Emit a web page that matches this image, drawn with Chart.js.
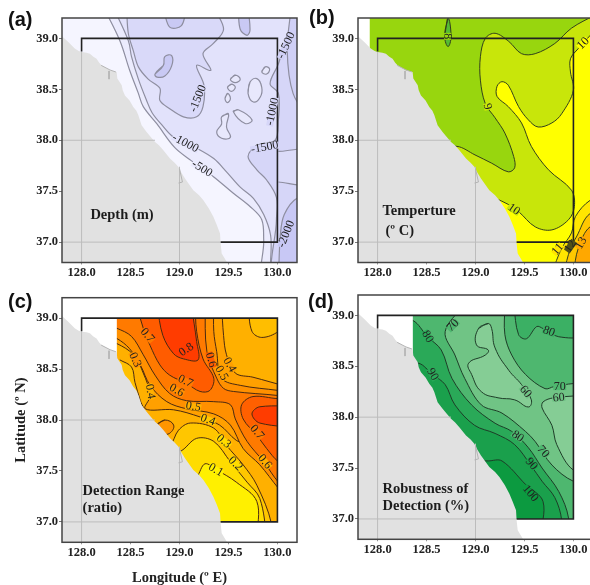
<!DOCTYPE html>
<html>
<head>
<meta charset="utf-8">
<script src="https://cdn.jsdelivr.net/npm/chart.js@4"></script>
<style>
  html, body { margin: 0; padding: 0; background: #fff; width: 590px; height: 585px; overflow: hidden; }
  canvas { position: absolute; filter: blur(0.35px); }
</style>
</head>
<body>
<canvas id="panelA" style="left:0;top:0" width="300" height="285"></canvas>
<canvas id="panelB" style="left:296px;top:0" width="300" height="285"></canvas>
<canvas id="panelC" style="left:0;top:285px" width="300" height="303"></canvas>
<canvas id="panelD" style="left:296px;top:285px" width="300" height="300"></canvas>
<script>
// Axis ticks
const lonTicks = [128, 128.5, 129, 129.5, 130];
const latTicks = [37, 37.5, 38, 38.5, 39];

// Coastline, north to south [lon, lat]
const coast = [
  [127.7, 39.1], [127.8, 39.02], [127.864, 38.964], [127.93, 38.9], [127.97, 38.875], [128.0, 38.866],
  [128.05, 38.86], [128.085, 38.85], [128.12, 38.82], [128.153, 38.8], [128.18, 38.76], [128.204, 38.735],
  [128.25, 38.71], [128.29, 38.686], [128.358, 38.67], [128.365, 38.605], [128.41, 38.54], [128.42, 38.49],
  [128.443, 38.44], [128.49, 38.39], [128.528, 38.327], [128.56, 38.29], [128.58, 38.245], [128.613, 38.147],
  [128.664, 38.082], [128.7, 38.04], [128.75, 37.984], [128.79, 37.95], [128.835, 37.902], [128.903, 37.82],
  [128.95, 37.78], [128.988, 37.739], [129.02, 37.68], [129.056, 37.624], [129.141, 37.51], [129.2, 37.46],
  [129.244, 37.412], [129.3, 37.33], [129.346, 37.248], [129.38, 37.17], [129.414, 37.085], [129.42, 36.987],
  [129.431, 36.889], [129.482, 36.807], [129.5, 36.7], [127.7, 36.7]
];
const riverA = [[128.2, 38.735], [128.29, 38.69], [128.35, 38.67]];
const riverB = [[128.28, 38.68], [128.28, 38.6]];
const riverC = [[129.0, 37.72], [129.03, 37.59], [128.99, 37.58]];

// Study box and land grid lines
const studyBox = [[128, 38.87], [128, 39], [130, 39], [130, 37], [129.42, 37]];
const gridLon128 = [[128, 36.8], [128, 38.87]];
const gridLon129 = [[129, 36.8], [129, 37.74]];
const gridLat38 = [[127.8, 38], [128.75, 38]];
const gridLat37 = [[127.8, 37], [129.42, 37]];

// (a) Depth contours
const depthBase = [[127.7, 39.3], [130.3, 39.3], [130.3, 36.7], [127.7, 36.7]];
const depth500 = [[128.2, 39.35], [128.39, 38.98], [128.49, 38.69], [128.58, 38.46], [128.63, 38.33], [128.77, 38.16], [128.95, 37.93], [129.12, 37.8], [129.35, 37.64], [129.55, 37.48], [129.72, 37.35], [129.84, 37.22], [129.86, 37.02], [129.87, 36.6], [130.5, 36.6], [130.5, 39.35]];
const depth1000 = [[128.3, 39.35], [128.477, 38.98], [128.51, 38.82], [128.58, 38.6], [128.66, 38.4], [128.72, 38.27], [128.82, 38.15], [128.94, 38.03], [129.18, 37.92], [129.35, 37.82], [129.48, 37.69], [129.62, 37.54], [129.755, 37.43], [129.86, 37.27], [129.93, 37.07], [129.98, 36.6], [130.5, 36.6], [130.5, 39.35]];
const depth1500Main = [[128.46, 39.3], [128.477, 39.05], [128.528, 38.88], [128.58, 38.72], [128.68, 38.6], [128.8, 38.51], [128.8, 38.39], [128.9, 38.31], [129.04, 38.23], [129.175, 38.23], [129.24, 38.33], [129.25, 38.54], [129.175, 38.735], [129.32, 38.686], [129.24, 38.85], [129.346, 38.95], [129.45, 39.09], [129.35, 39.3]];
const depth1500East = [[130.16, 39.3], [130.16, 39.19], [130.08, 38.98], [130.01, 38.75], [129.925, 38.555], [130.01, 38.46], [130.01, 38.2], [129.976, 38.0], [129.79, 37.95], [129.7, 37.84], [129.79, 37.71], [129.89, 37.61], [129.99, 37.44], [129.99, 37.22], [129.976, 36.6], [130.5, 36.6], [130.5, 39.3]];
const depth2000South = [[130.01, 36.6], [130.03, 37.07], [130.07, 37.27], [130.2, 37.43], [130.5, 37.5], [130.5, 36.6]];
const depth2000North = [[130.14, 39.3], [130.1, 38.88], [130.16, 38.46], [130.3, 38.3], [130.5, 39.3]];
const depthEastLoop = [[130.01, 37.89], [130.3, 37.89], [130.3, 37.58], [130.01, 37.59]];
const depthBlobA = [[128.75, 38.65], [128.835, 38.735], [128.85, 38.82], [128.92, 38.83], [128.92, 38.73], [128.85, 38.63], [128.77, 38.62]];
const depthBlobB = [[128.835, 39.3], [128.9, 39.11], [129.02, 39.125], [129.07, 39.3]];
const depthBlobC = [[129.6, 39.3], [129.62, 39.09], [129.69, 39.03], [129.72, 39.08], [129.7, 39.3]];
const depthHoles = [
  [[129.7, 38.46], [129.72, 38.57], [129.79, 38.605], [129.84, 38.52], [129.825, 38.425], [129.755, 38.375]],
  [[129.84, 38.67], [129.875, 38.72], [129.92, 38.7], [129.89, 38.65]],
  [[129.52, 38.6], [129.57, 38.64], [129.62, 38.6], [129.57, 38.565]],
  [[129.49, 38.52], [129.53, 38.55], [129.57, 38.52], [129.53, 38.48]],
  [[129.465, 38.41], [129.49, 38.46], [129.52, 38.41], [129.49, 38.37]],
  [[129.55, 38.28], [129.6, 38.3], [129.74, 38.2], [129.67, 38.165]],
  [[129.43, 38.23], [129.5, 38.26], [129.48, 38.13], [129.52, 38.03], [129.43, 38.02], [129.38, 38.08], [129.43, 38.16]]
];
const depthLabels = [[129.19, 38.41, "-1500"], [129.06, 37.97, "-1000"], [129.23, 37.72, "-500"], [129.95, 38.28, "-1000"], [129.87, 37.93, "-1500"], [130.09, 38.93, "-1500"], [130.09, 37.08, "-2000"]];
const depthLabelAngles = [-68, 28, 32, -78, -10, -65, -68];

// (b) Temperature contours
const tempBase = [[127.92, 39.3], [130.3, 39.3], [130.3, 36.7], [127.92, 36.7]];
const temp9 = [[130.22, 39.23], [129.98, 39.1], [129.81, 38.95], [129.61, 38.85], [129.47, 38.85], [129.34, 38.97], [129.2, 39.05], [129.1, 39.0], [129.05, 38.82], [129.05, 38.59], [129.1, 38.36], [129.2, 38.22], [129.3, 38.07], [129.39, 37.84], [129.4, 37.73], [129.335, 37.69], [129.165, 37.775], [128.995, 37.856], [128.81, 37.94], [128.6, 37.9], [129.2, 36.6], [130.4, 36.6], [130.4, 39.3]];
const temp10 = [[130.22, 39.08], [130.05, 38.9], [129.97, 38.8], [129.97, 38.67], [130.0, 38.49], [129.88, 38.26], [129.78, 38.17], [129.64, 38.13], [129.54, 38.2], [129.44, 38.33], [129.335, 38.54], [129.27, 38.575], [129.22, 38.53], [129.22, 38.43], [129.335, 38.33], [129.47, 38.17], [129.57, 37.94], [129.745, 37.71], [129.98, 37.51], [130.01, 37.35], [129.95, 37.22], [129.78, 37.12], [129.61, 37.15], [129.44, 37.3], [129.335, 37.37], [129.2, 37.43], [129.0, 37.5], [129.3, 36.6], [130.4, 36.6], [130.4, 39.2]];
const temp11 = [[129.78, 36.7], [129.88, 36.94], [129.98, 37.09], [130.02, 37.25], [130.17, 37.41], [130.4, 37.5], [130.4, 36.7]];
const temp12 = [[129.9, 36.7], [129.97, 36.94], [130.03, 37.05], [130.17, 37.28], [130.4, 37.3], [130.4, 36.7]];
const temp13 = [[130.0, 36.7], [130.05, 36.94], [130.17, 37.15], [130.4, 37.2], [130.4, 36.7]];
const temp8 = [[128.72, 39.2], [128.685, 39.02], [128.72, 38.92], [128.75, 39.02]];
const tempLabels = [[128.715, 39.02, "8"], [129.12, 38.33, "9"], [130.1, 38.95, "10"], [129.39, 37.32, "10"], [129.84, 36.93, "11"], [129.97, 36.96, "12"], [130.08, 36.99, "13"]];
const tempLabelAngles = [90, 75, -45, 35, -50, -55, -60];

// (c) Detection range contours
const rangeHigh4 = [[129.43, 39.13], [129.45, 38.83], [129.48, 38.64], [129.57, 38.46], [129.75, 38.42], [130.1, 38.33], [130.3, 38.3], [130.3, 37.2], [129.99, 37.44], [129.75, 37.72], [129.58, 37.8], [129.41, 37.95], [129.21, 38.03], [128.94, 38.1], [128.65, 38.11], [128.7, 38.24], [128.63, 38.46], [128.53, 38.64], [128.36, 38.75], [128.19, 38.8], [128.19, 39.13]];
const rangeHigh5 = [[129.35, 39.13], [129.35, 38.87], [129.38, 38.67], [129.43, 38.41], [129.62, 38.34], [130.01, 38.29], [130.3, 38.25], [130.3, 37.0], [130.01, 37.33], [129.82, 37.56], [129.65, 37.72], [129.52, 37.95], [129.35, 38.06], [129.07, 38.11], [128.87, 38.18], [128.7, 38.34], [128.6, 38.54], [128.49, 38.7], [128.36, 38.8], [128.19, 38.87], [128.19, 39.13]];
const rangeHigh6 = [[129.26, 39.13], [129.28, 38.67], [129.38, 38.41], [129.45, 38.31], [129.55, 38.28], [130.01, 38.24], [130.3, 38.2], [130.3, 37.1], [130.01, 37.39], [129.86, 37.59], [129.69, 37.79], [129.57, 38.01], [129.52, 38.15], [129.35, 38.18], [129.07, 38.19], [128.9, 38.26], [128.75, 38.44], [128.63, 38.64], [128.51, 38.82], [128.36, 38.9], [128.19, 38.96], [128.19, 39.13]];
const rangeHigh7 = [[129.16, 39.13], [129.175, 38.87], [129.24, 38.6], [129.35, 38.41], [129.31, 38.29], [129.21, 38.28], [129.07, 38.36], [128.9, 38.44], [128.8, 38.54], [128.7, 38.73], [128.63, 38.9], [128.56, 39.13]];
const rangeHigh8 = [[128.77, 39.13], [128.83, 38.83], [128.94, 38.65], [129.04, 38.6], [129.19, 38.59], [129.175, 38.77], [129.12, 39.13]];
const rangeEast7 = [[130.3, 38.22], [130.01, 38.21], [129.75, 38.23], [129.635, 38.15], [129.65, 38.01], [129.79, 37.85], [129.89, 37.72], [130.01, 37.59], [130.3, 37.4]];
const rangeEast8 = [[130.3, 38.13], [129.82, 38.13], [129.74, 38.06], [129.82, 37.97], [130.3, 37.92]];
const rangeLow3 = [[128.77, 37.75], [128.9, 37.75], [128.99, 37.9], [129.11, 37.97], [129.35, 37.92], [129.48, 37.75], [129.65, 37.56], [129.79, 37.36], [129.94, 36.98], [129.94, 36.7], [128.77, 36.7]];
const rangeLow2 = [[128.8, 37.7], [129.0, 37.69], [129.175, 37.82], [129.35, 37.79], [129.52, 37.59], [129.69, 37.39], [129.82, 37.23], [129.89, 36.84], [129.89, 36.7], [128.8, 36.7]];
const rangeLow1 = [[129.0, 37.3], [129.175, 37.44], [129.26, 37.57], [129.38, 37.51], [129.58, 37.39], [129.79, 37.2], [129.79, 36.84], [129.79, 36.7], [129.0, 36.7]];
const rangeWestLow = [[128.39, 38.59], [128.51, 38.52], [128.545, 38.37], [128.6, 38.19], [128.63, 38.1], [128.19, 38.34], [128.19, 38.59]];
const rangeSpot = [[128.77, 37.95], [128.85, 38.0], [128.94, 37.95], [128.9, 37.87], [128.83, 37.87]];
const rangeNorthEast = [[129.7, 39.13], [129.74, 38.87], [129.84, 38.81], [130.01, 38.87], [130.1, 39.0], [130.1, 39.13]];
const rangeLabels = [[128.67, 38.83, "0.7"], [129.07, 38.69, "0.8"], [129.32, 38.59, "0.6"], [129.51, 38.54, "0.4"], [129.43, 38.46, "0.5"], [128.545, 38.59, "0.3"], [128.7, 38.28, "0.4"], [129.06, 38.38, "0.7"], [128.97, 38.29, "0.6"], [129.14, 38.13, "0.5"], [129.29, 38.0, "0.4"], [129.45, 37.79, "0.3"], [129.57, 37.57, "0.2"], [129.37, 37.51, "0.1"], [129.79, 37.88, "0.7"], [129.87, 37.59, "0.6"]];
const rangeLabelAngles = [50, -35, 75, 60, 60, 65, 80, 25, 30, 10, 20, 40, 45, 30, 50, 50];

// (d) Robustness contours
const robust80 = [[128.18, 38.95], [128.36, 38.95], [128.51, 38.79], [128.65, 38.66], [128.76, 38.38], [128.96, 38.12], [129.2, 37.94], [129.37, 37.86], [129.54, 37.7], [129.68, 37.5], [129.85, 37.27], [129.95, 37.01], [129.95, 36.68], [128.18, 36.68]];
const robust90 = [[128.18, 38.53], [128.42, 38.53], [128.56, 38.42], [128.69, 38.32], [128.79, 38.12], [128.99, 37.92], [129.2, 37.84], [129.4, 37.73], [129.57, 37.52], [129.68, 37.37], [129.81, 37.21], [129.88, 36.99], [129.88, 36.68], [128.18, 36.68]];
const robust100 = [[128.86, 37.57], [129.13, 37.57], [129.27, 37.57], [129.51, 37.34], [129.69, 37.17], [129.66, 36.81], [129.66, 36.68], [128.86, 36.68]];
const robust70 = [[128.88, 39.1], [128.69, 38.84], [128.79, 38.61], [128.89, 38.38], [129.06, 38.12], [129.27, 38.04], [129.51, 37.86], [129.61, 37.76], [129.78, 37.53], [130.0, 37.37], [130.22, 37.34], [130.22, 38.33], [130.0, 38.33], [129.8, 38.3], [129.71, 38.28], [129.51, 38.42], [129.37, 38.61], [129.3, 38.81], [129.3, 39.1]];
const robust60West = [[129.13, 38.92], [129.03, 38.87], [129.01, 38.71], [129.13, 38.66], [129.1, 38.61], [128.93, 38.53], [128.96, 38.42], [129.06, 38.25], [129.23, 38.19], [129.4, 38.17], [129.54, 38.1], [129.57, 38.17], [129.47, 38.32], [129.34, 38.46], [129.2, 38.68], [129.165, 38.87]];
const robust60East = [[130.22, 38.22], [129.8, 38.19], [129.69, 38.15], [129.68, 38.09], [129.78, 37.92], [129.83, 37.73], [130.0, 37.48], [130.22, 37.47]];
const robust80North = [[129.39, 39.1], [129.44, 38.81], [129.52, 38.77], [129.625, 38.89], [129.69, 38.87], [129.85, 38.79], [130.09, 38.81], [130.09, 39.1]];
const robustLabels = [[128.51, 38.79, "80"], [128.77, 38.9, "70"], [128.56, 38.42, "90"], [129.75, 38.84, "80"], [129.86, 38.3, "70"], [129.85, 38.19, "60"], [129.51, 38.25, "60"], [129.43, 37.81, "80"], [129.69, 37.66, "70"], [129.57, 37.54, "90"], [129.56, 37.25, "100"]];
const robustLabelAngles = [60, -45, 60, 20, 0, -5, 50, 35, 50, 50, 50];

// Box corners used to hide colour outside the detection grid
const detectionGrid = { west: 128.36, east: 130, south: 37, north: 39 };

const SERIF = '"Liberation Serif", "Times New Roman", serif';

function toPoints(list) {
  return list.map((p) => ({ x: p[0], y: p[1] }));
}

// Filled contour band, smoothed by the line tension
function band(list, colour, lineColour, lineWidth) {
  return {
    data: toPoints(list),
    showLine: true,
    fill: "shape",
    backgroundColor: colour,
    borderColor: lineColour || "rgba(0,0,0,0)",
    borderWidth: lineColour ? lineWidth || 1 : 0,
    tension: 0.35,
    pointRadius: 0,
  };
}

// Small closed contour: run past the start so the join stays round
function loop(list, colour, lineColour, lineWidth) {
  let item = band(list.concat([list[0], list[1]]), colour, lineColour, lineWidth);
  item.tension = 0.45;
  return item;
}

// Plain polyline, no fill
function stroke(list, colour, width) {
  return {
    data: toPoints(list),
    showLine: true,
    fill: false,
    borderColor: colour,
    borderWidth: width,
    tension: 0,
    pointRadius: 0,
  };
}

function flat(list, colour) {
  let item = band(list, colour);
  item.tension = 0;
  return item;
}

// White cover around the detection grid in panels (c) and (d)
function gridMask() {
  const g = detectionGrid;
  return [
    flat([[127.5, 39.5], [g.west, 39.5], [g.west, 36.5], [127.5, 36.5]], "#fff"),
    flat([[g.east, 39.5], [130.5, 39.5], [130.5, 36.5], [g.east, 36.5]], "#fff"),
    flat([[127.5, 39.5], [130.5, 39.5], [130.5, g.north], [127.5, g.north]], "#fff"),
    flat([[127.5, g.south], [130.5, g.south], [130.5, 36.5], [127.5, 36.5]], "#fff"),
  ];
}

// Land, grid lines and study box sit over all colour
function landLayers() {
  return [
    flat(coast, "#e1e1e1"),
    stroke(gridLon128, "#bcbcbc", 1),
    stroke(gridLon129, "#bcbcbc", 1),
    stroke(gridLat38, "#bcbcbc", 1),
    stroke(gridLat37, "#bcbcbc", 1),
    stroke(riverA, "#b4b4b4", 1),
    stroke(riverB, "#b4b4b4", 1),
    stroke(riverC, "#b4b4b4", 1),
    stroke(studyBox, "#222", 1.6),
  ];
}

// How far a sampled pixel is from grey
function chroma(px) {
  return Math.max(px[0], px[1], px[2]) - Math.min(px[0], px[1], px[2]);
}

// Labels, notes, frame and panel letter
const panelText = {
  id: "panelText",
  afterDatasetsDraw(chart, args, opts) {
    const { ctx, chartArea, scales } = chart;
    ctx.save();
    ctx.beginPath();
    ctx.rect(chartArea.left, chartArea.top, chartArea.width, chartArea.height);
    ctx.clip();
    ctx.font = "12px " + SERIF;
    ctx.textAlign = "center";
    ctx.textBaseline = "middle";
    opts.labels.forEach((item, i) => {
      const x = scales.x.getPixelForValue(item[0]);
      const y = scales.y.getPixelForValue(item[1]);
      const angle = (opts.angles[i] * Math.PI) / 180;
      // take the gap colour from the band beside the label, not land or a line
      const dx = Math.sin(angle) * 8;
      const dy = Math.cos(angle) * 8;
      const a = ctx.getImageData(Math.round(x + dx), Math.round(y - dy), 1, 1).data;
      const b = ctx.getImageData(Math.round(x - dx), Math.round(y + dy), 1, 1).data;
      const px = chroma(a) > chroma(b) ? a : b;
      const w = ctx.measureText(item[2]).width + 1;
      ctx.save();
      ctx.translate(x, y);
      ctx.rotate(angle);
      ctx.fillStyle = `rgb(${px[0]},${px[1]},${px[2]})`;
      ctx.fillRect(-w / 2, -3.5, w, 7);
      ctx.fillStyle = "#222";
      ctx.fillText(item[2], 0, 0);
      ctx.restore();
    });
    ctx.restore();

    ctx.save();
    ctx.font = "bold 14.5px " + SERIF;
    ctx.fillStyle = "#1c1c1c";
    ctx.textBaseline = "middle";
    opts.notes.forEach((item) => {
      ctx.fillText(item[2], scales.x.getPixelForValue(item[0]), scales.y.getPixelForValue(item[1]));
    });
    ctx.strokeStyle = "#444";
    ctx.lineWidth = 1.5;
    ctx.strokeRect(chartArea.left, chartArea.top, chartArea.width, chartArea.height);
    ctx.font = 'bold 20px "Liberation Sans", Arial, sans-serif';
    ctx.fillStyle = "#111";
    ctx.fillText(opts.letter, opts.letterX, opts.letterY);
    ctx.restore();
  },
};

function drawPanel(id, cfg) {
  const canvas = document.getElementById(id);
  const bottomSpace = canvas.height - cfg.plotBottom;
  new Chart(canvas, {
    type: "scatter",
    data: { datasets: cfg.layers.slice().reverse() },
    plugins: [panelText],
    options: {
      responsive: false,
      animation: false,
      events: [],
      layout: { padding: { top: cfg.plotTop, right: 3, left: 0, bottom: 0 } },
      plugins: {
        legend: { display: false },
        tooltip: { enabled: false },
        panelText: { labels: cfg.labels, angles: cfg.angles, notes: cfg.notes, letter: cfg.letter, letterX: cfg.letterX, letterY: cfg.letterY },
      },
      scales: {
        x: {
          type: "linear",
          min: 127.8,
          max: 130.2,
          afterBuildTicks: (axis) => { axis.ticks = lonTicks.map((v) => ({ value: v })); },
          afterFit: (axis) => { axis.height = bottomSpace; },
          grid: { drawOnChartArea: false, tickLength: 2, color: "#999" },
          border: { display: false },
          title: cfg.xTitle ? { display: true, text: cfg.xTitle, color: "#222", font: { family: SERIF, size: 14.5, weight: "bold" }, padding: { top: 0, bottom: 1 } } : { display: false },
          ticks: { color: "#222", maxRotation: 0, autoSkip: false, padding: 1, font: { family: SERIF, size: 12.5, weight: "bold" }, callback: (v) => v.toFixed(1) },
        },
        y: {
          type: "linear",
          min: 36.8,
          max: 39.2,
          afterBuildTicks: (axis) => { axis.ticks = latTicks.map((v) => ({ value: v })); },
          afterFit: (axis) => { axis.width = 62; },
          grid: { drawOnChartArea: false, tickLength: 3, color: "#777" },
          border: { display: false },
          title: cfg.yTitle ? { display: true, text: cfg.yTitle, color: "#222", font: { family: SERIF, size: 14.5, weight: "bold" }, padding: { top: 13, bottom: 0 } } : { display: false },
          ticks: { color: "#222", autoSkip: false, padding: 1, font: { family: SERIF, size: 12.5, weight: "bold" }, callback: (v) => v.toFixed(1) },
        },
      },
    },
  });
}

// Panel (a)
const depthLine = "#8e8ea0";
drawPanel("panelA", {
  plotTop: 18, plotBottom: 262.5, letter: "(a)", letterX: 8, letterY: 20,
  labels: depthLabels, angles: depthLabelAngles,
  notes: [[128.09, 37.265, "Depth (m)"]],
  layers: [
    flat(depthBase, "#f5f5ff"),
    band(depth500, "#ebebfd", depthLine, 1.2),
    band(depth1000, "#e2e2fb", depthLine, 1.2),
    band(depth1500Main, "#d9d9f9", depthLine, 1.2),
    band(depth1500East, "#d6d6f8", depthLine, 1.2),
    band(depth2000South, "#c8c8f5", depthLine, 1.2),
    band(depth2000North, "#d0d0f6", depthLine, 1.2),
    band(depthEastLoop, "#dcdcf9", depthLine, 1.2),
    loop(depthBlobA, "#c9c9f4", depthLine, 1.2),
    band(depthBlobB, "#c9c9f4", depthLine, 1.2),
    band(depthBlobC, "#c9c9f4", depthLine, 1.2),
    ...depthHoles.map((hole) => loop(hole, "#e8e8fc", depthLine, 1.2)),
    ...landLayers(),
  ],
});

// Panel (b)
const tempLine = "#33401c";
drawPanel("panelB", {
  plotTop: 18, plotBottom: 262.5, letter: "(b)", letterX: 13, letterY: 18,
  labels: tempLabels, angles: tempLabelAngles,
  notes: [[128.05, 37.3, "Temperture"], [128.08, 37.11, "(º C)"]],
  layers: [
    flat(tempBase, "#98d60e"),
    band(temp9, "#c8e60a", tempLine),
    band(temp10, "#ffff00", tempLine),
    band(temp11, "#ffe600", tempLine),
    band(temp12, "#ffc800", tempLine),
    band(temp13, "#ffa800", tempLine),
    loop(temp8, "#55bb33", tempLine),
    ...landLayers(),
  ],
});

// Panel (c)
const rangeLine = "#4a2a10";
drawPanel("panelC", {
  plotTop: 12.7, plotBottom: 257.3, letter: "(c)", letterX: 8, letterY: 17,
  labels: rangeLabels, angles: rangeLabelAngles,
  notes: [[128.01, 37.3, "Detection Range"], [128.01, 37.13, "(ratio)"]],
  xTitle: "Longitude (º E)", yTitle: "Latitude (º N)",
  layers: [
    flat(depthBase, "#ffb000"),
    band(rangeLow3, "#ffc600", rangeLine),
    band(rangeLow2, "#ffdc00", rangeLine),
    band(rangeLow1, "#fff000", rangeLine),
    band(rangeWestLow, "#ffc000", rangeLine),
    loop(rangeSpot, "#ff9500", rangeLine),
    band(rangeNorthEast, "#ffbe00", rangeLine),
    band(rangeHigh4, "#ffa000", rangeLine),
    band(rangeHigh5, "#ff9000", rangeLine),
    band(rangeHigh6, "#ff7a00", rangeLine),
    band(rangeHigh7, "#ff5c00", rangeLine),
    band(rangeHigh8, "#ff3c00", rangeLine),
    band(rangeEast7, "#ff6000", rangeLine),
    band(rangeEast8, "#ff3c00", rangeLine),
    ...gridMask(),
    ...landLayers(),
  ],
});

// Panel (d)
const robustLine = "#1e3d28";
drawPanel("panelD", {
  plotTop: 10, plotBottom: 254.3, letter: "(d)", letterX: 12, letterY: 17,
  labels: robustLabels, angles: robustLabelAngles,
  notes: [[128.05, 37.29, "Robustness of"], [128.05, 37.12, "Detection (%)"]],
  layers: [
    flat(depthBase, "#4eb76f"),
    band(robust80North, "#3bb064", robustLine),
    band(robust70, "#70c485", robustLine),
    loop(robust60West, "#85cd95", robustLine),
    band(robust60East, "#85cd95", robustLine),
    band(robust80, "#2aa958", robustLine),
    band(robust90, "#1aa04c", robustLine),
    band(robust100, "#0c9a40", robustLine),
    ...gridMask(),
    ...landLayers(),
  ],
});
</script>
</body>
</html>
